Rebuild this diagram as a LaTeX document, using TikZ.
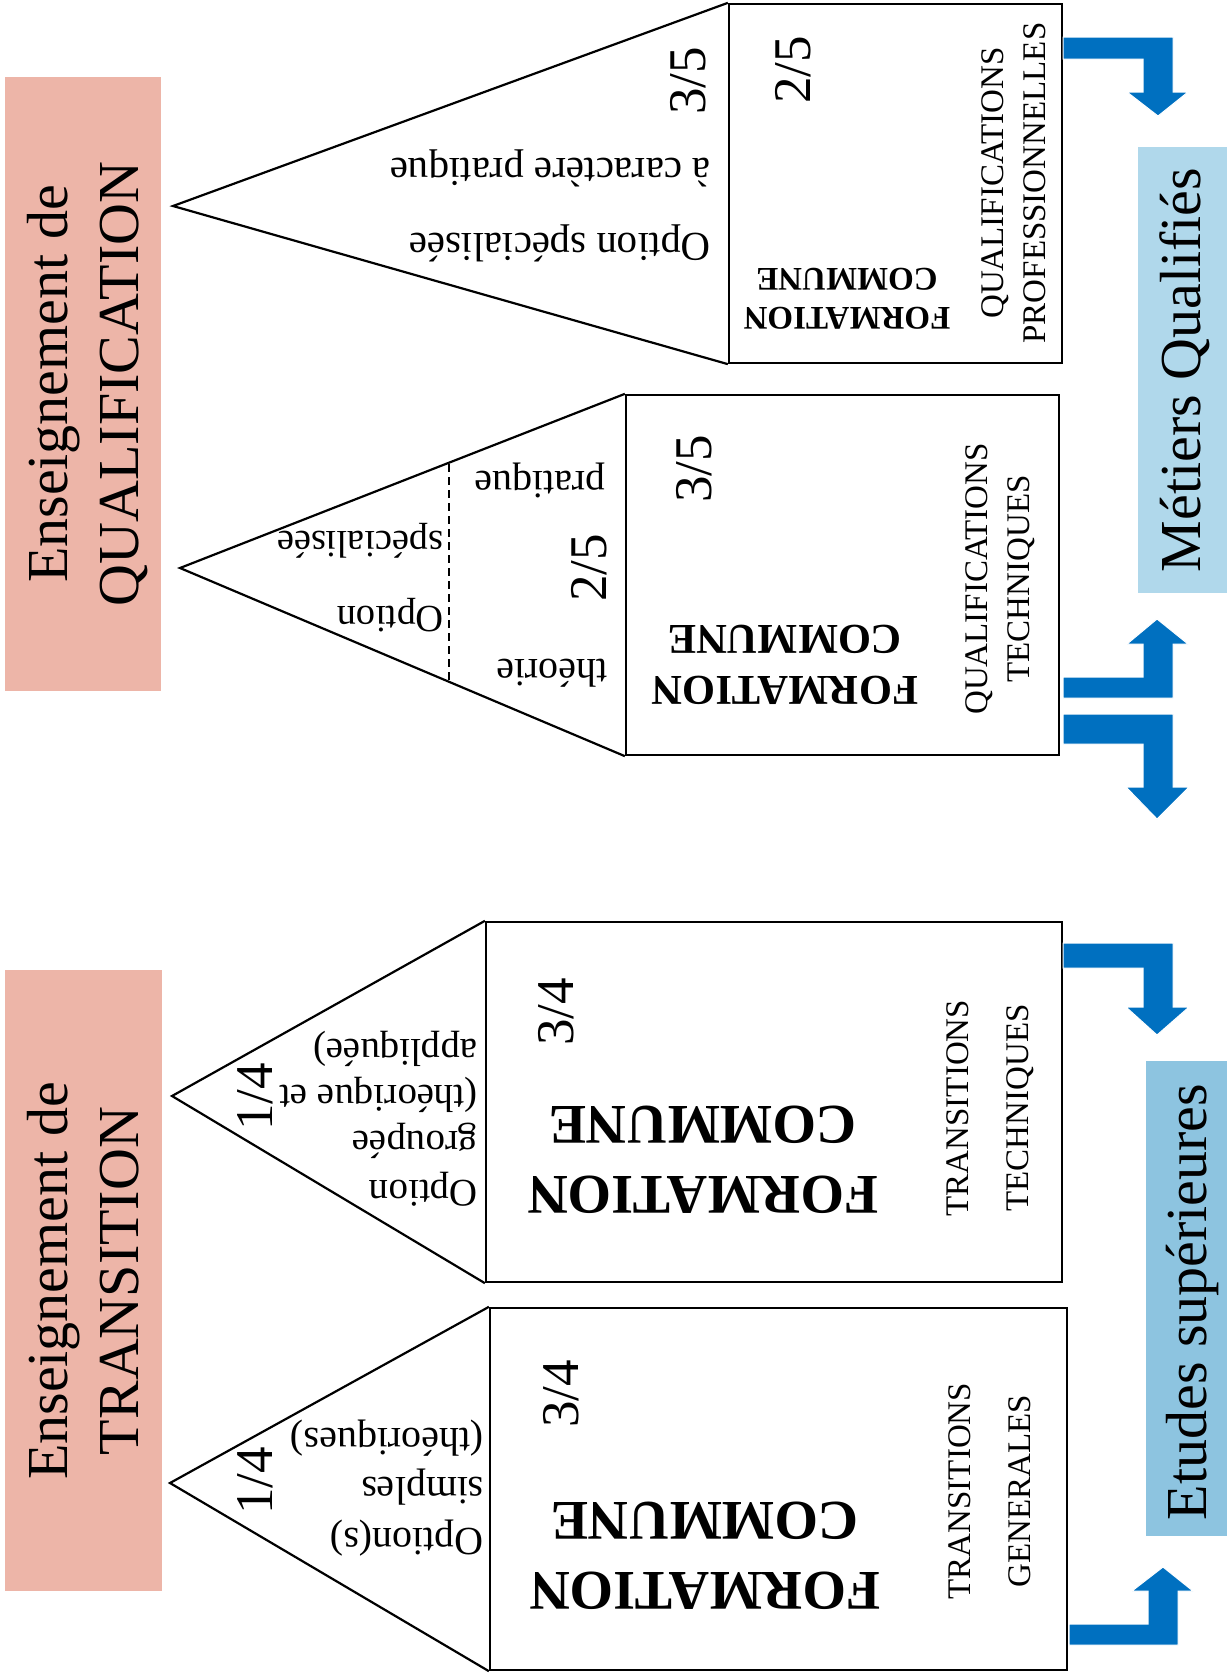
\documentclass[tikz,border=0pt]{standalone}
\usepackage{fontspec}
\setmainfont{Liberation Serif}
\definecolor{pinkbg}{HTML}{EDB5A8}
\definecolor{blueA}{HTML}{B0D8EB}
\definecolor{blueB}{HTML}{8DC4E0}
\definecolor{arrowblue}{HTML}{0070C0}
\newcommand{\myfs}[2]{\fontsize{#1}{#2}\selectfont}
\begin{document}
\begin{tikzpicture}[x=1pt,y=-1pt,
  boxst/.style={draw=black, line width=2.3pt, inner sep=0pt, fill=white},
  triline/.style={draw=black, line width=2.2pt, line join=miter},
  lbl/.style={inner sep=0pt, align=center, text=black},
  frac/.style={lbl, rotate=90, font=\myfs{53}{60}},
  optt/.style={inner sep=0pt, rotate=180, anchor=west, text=black},
  arr/.style={fill=arrowblue, draw=white, line width=1pt}]
\useasboundingbox (0,0) rectangle (1227,1674);
\fill[white] (0,0) rectangle (1227,1674);

% title boxes
\node[fill=pinkbg, inner sep=0pt, minimum width=156pt, minimum height=614pt] (tq) at (83,384) {};
\node[lbl, rotate=90, font=\myfs{58}{71}] (tqt) at (88,384) {Enseignement de\\QUALIFICATION};
\node[fill=pinkbg, inner sep=0pt, minimum width=157pt, minimum height=621pt] (tt) at (83.5,1280.5) {};
\node[lbl, rotate=90, font=\myfs{58}{71}] (ttt) at (83,1281) {Enseignement de\\TRANSITION};

% destination boxes
\node[fill=blueA, inner sep=0pt, minimum width=89pt, minimum height=446pt] (mq) at (1182.5,370) {};
\node[lbl, rotate=90, font=\myfs{58}{66}] (mqt) at (1185,370) {Métiers Qualifiés};
\node[fill=blueB, inner sep=0pt, minimum width=81pt, minimum height=475pt] (es) at (1186.5,1298.5) {};
\node[lbl, rotate=90, font=\myfs{58}{66}] (est) at (1192,1302) {Etudes supérieures};

% main boxes
\node[boxst, minimum width=333pt, minimum height=359pt] (b1) at (895.5,183.5) {};
\node[boxst, minimum width=433pt, minimum height=360pt] (b2) at (842.5,575) {};
\node[boxst, minimum width=576pt, minimum height=360pt] (b3) at (774,1102) {};
\node[boxst, minimum width=577pt, minimum height=362pt] (b4) at (778.5,1489) {};

% triangle apexes
\coordinate (a1) at (173,206);
\coordinate (a2) at (180,568);
\coordinate (a3) at (172,1096);
\coordinate (a4) at (170,1483);
\draw[triline] (b1.north west) -- (a1) -- (b1.south west);
\draw[triline] (b2.north west) -- (a2) -- (b2.south west);
\draw[triline] (b3.north west) -- (a3) -- (b3.south west);
\draw[triline] (b4.north west) -- (a4) -- (b4.south west);

% dashed split in triangle 2
\coordinate (d1) at (449,464);
\coordinate (d2) at (449,681);
\draw[line width=1.8pt, dash pattern=on 8pt off 5pt] (d1) -- (d2);

% FORMATION COMMUNE
\node[lbl, rotate=180, font=\bfseries\myfs{33}{39}] (f1) at (847,299) {FORMATION\\COMMUNE};
\node[lbl, rotate=180, font=\bfseries\myfs{42.5}{51}] (f2) at (785,665) {FORMATION\\COMMUNE};
\node[lbl, rotate=180, font=\bfseries\myfs{56}{70}] (f3) at (703,1160) {FORMATION\\COMMUNE};
\node[lbl, rotate=180, font=\bfseries\myfs{56}{70}] (f4) at (705,1556) {FORMATION\\COMMUNE};

% side labels
\node[lbl, rotate=90, font=\myfs{33}{42}] (l1) at (1014,183) {QUALIFICATIONS\\PROFESSIONNELLES};
\node[lbl, rotate=90, font=\myfs{33}{42}] (l2) at (1000,579) {QUALIFICATIONS\\TECHNIQUES};
\node[lbl, rotate=90, font=\myfs{33}{60}] (l3) at (990,1108) {TRANSITIONS\\TECHNIQUES};
\node[lbl, rotate=90, font=\myfs{33}{60}] (l4) at (990,1491) {TRANSITIONS\\GENERALES};

% fractions
\node[frac] (q1) at (688,81) {3/5};
\node[frac] (q2) at (793,70) {2/5};
\node[frac] (q3) at (694,469) {3/5};
\node[frac] (q4) at (589,568) {2/5};
\node[frac] (q5) at (255,1097) {1/4};
\node[frac] (q6) at (556,1012) {3/4};
\node[frac] (q7) at (255,1481) {1/4};
\node[frac] (q8) at (561,1394) {3/4};

% option texts
\node[optt, font=\myfs{41}{48}] (o1a) at (711,243) {Option spécialisée};
\node[optt, font=\myfs{41}{48}] (o1b) at (711,168) {à caractère pratique};
\node[optt, font=\myfs{38.5}{45}] (o2a) at (444,615) {Option};
\node[optt, font=\myfs{38.5}{45}] (o2b) at (444,541) {spécialisée};
\node[optt, font=\myfs{40}{46}] (o2c) at (606,480) {pratique};
\node[optt, font=\myfs{40}{46}] (o2d) at (608,673) {théorie};
\node[optt, font=\myfs{39}{46}] (o3a) at (478,1189) {Option};
\node[optt, font=\myfs{39}{46}] (o3b) at (478,1141) {groupée};
\node[optt, font=\myfs{39}{46}] (o3c) at (478,1095) {(théorique et};
\node[optt, font=\myfs{39}{46}] (o3d) at (478,1049) {appliquée)};
\node[optt, font=\myfs{40}{50}] (o4a) at (484,1538) {Option(s)};
\node[optt, font=\myfs{40}{50}] (o4b) at (484,1487) {simples};
\node[optt, font=\myfs{40}{50}] (o4c) at (484,1438) {(théoriques)};

% block arrows
\path[arr] (1063,37) -- (1173,37) -- (1173,92) -- (1188,92) -- (1158,116) -- (1127,92) -- (1143,92) -- (1143,59) -- (1063,59) -- cycle;
\path[arr] (1063,698) -- (1173,698) -- (1173,644) -- (1188,644) -- (1157,619) -- (1127,644) -- (1143,644) -- (1143,677) -- (1063,677) -- cycle;
\path[arr] (1063,714) -- (1173,714) -- (1173,787) -- (1189,787) -- (1157,819) -- (1126,787) -- (1143,787) -- (1143,744) -- (1063,744) -- cycle;
\path[arr] (1063,943) -- (1173,943) -- (1173,1007) -- (1189,1007) -- (1157,1035) -- (1126,1007) -- (1143,1007) -- (1143,968) -- (1063,968) -- cycle;
\path[arr] (1069,1645) -- (1178,1645) -- (1178,1591) -- (1193,1591) -- (1163,1567) -- (1132,1591) -- (1148,1591) -- (1148,1624) -- (1069,1624) -- cycle;
\end{tikzpicture}
\end{document}
